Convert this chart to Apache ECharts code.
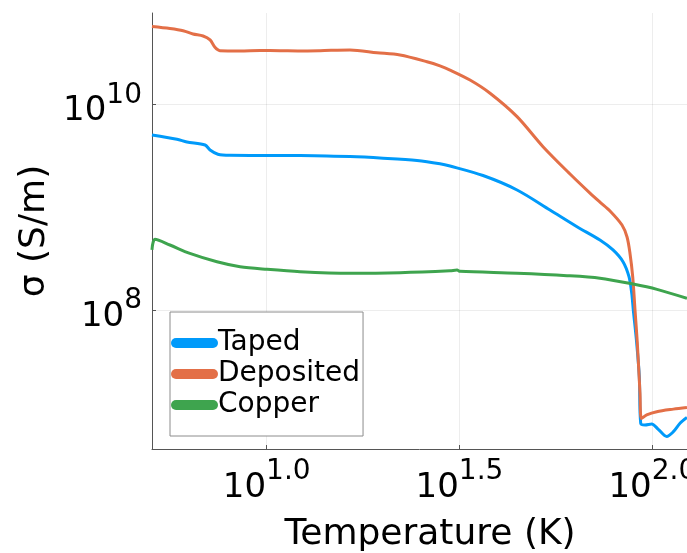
<!DOCTYPE html>
<html><head><meta charset="utf-8">
<script src="https://cdn.jsdelivr.net/npm/echarts@6/dist/echarts.min.js"></script>
<style>html,body{margin:0;padding:0;background:#fff}#c{width:687px;height:553px}</style>
</head><body><div id="c"></div>
<script>
// Temperature (K) and conductivity (S/m)
const tapedT = [5.04, 5.85, 6.21, 6.92, 7.13, 7.47, 8.03, 9.61, 12.2, 16.44, 20.03, 24.54, 28.14, 29.88, 36.39, 44.59, 54.28, 63.78, 73.15, 79.09, 83.95, 87.0, 88.43, 89.28, 91.11, 92.54, 93.32, 95.74, 99.64, 103.65, 108.97, 113.4, 118.0, 123.0];
const tapedSigma = [5.03e9, 4.57e9, 4.30e9, 4.02e9, 3.60e9, 3.27e9, 3.19e9, 3.18e9, 3.18e9, 3.10e9, 2.99e9, 2.84e9, 2.64e9, 2.51e9, 2.03e9, 1.47e9, 9.39e8, 6.46e8, 4.80e8, 3.84e8, 2.95e8, 2.11e8, 1.46e8, 1.00e8, 4.76e7, 2.25e7, 7.94e6, 7.65e6, 7.82e6, 6.94e6, 5.91e6, 6.58e6, 7.94e6, 9.04e6];

const depositedT = [5.04, 5.61, 6.07, 6.44, 6.84, 7.13, 7.34, 7.56, 8.53, 9.61, 10.83, 12.2, 13.75, 16.44, 19.32, 22.17, 26.04, 28.14, 29.88, 33.67, 37.95, 44.59, 52.07, 61.18, 68.92, 73.15, 77.68, 83.45, 86.0, 87.5, 88.97, 90.2, 91.44, 92.92, 93.76, 96.7, 102.7, 113.4, 123.0];
const depositedSigma = [5.70e10, 5.45e10, 5.19e10, 4.82e10, 4.61e10, 4.22e10, 3.58e10, 3.32e10, 3.30e10, 3.33e10, 3.32e10, 3.30e10, 3.32e10, 3.37e10, 3.17e10, 3.01e10, 2.59e10, 2.36e10, 2.15e10, 1.72e10, 1.28e10, 7.58e9, 3.87e9, 2.10e9, 1.37e9, 1.12e9, 9.19e8, 6.71e8, 5.13e8, 3.59e8, 2.10e8, 1.00e8, 4.79e7, 1.56e7, 8.84e6, 9.57e6, 1.03e7, 1.09e7, 1.13e7];

const copperT = [5.04, 5.13, 5.61, 6.32, 7.43, 8.53, 10.02, 12.2, 16.44, 22.17, 29.88, 31.16, 31.72, 44.59, 60.09, 73.15, 89.12, 102.85, 123.0];
const copperSigma = [3.84e8, 4.88e8, 4.29e8, 3.56e8, 2.95e8, 2.64e8, 2.49e8, 2.36e8, 2.28e8, 2.31e8, 2.41e8, 2.45e8, 2.38e8, 2.28e8, 2.16e8, 2.04e8, 1.79e8, 1.59e8, 1.30e8];

const seriesNames = ['Taped', 'Deposited', 'Copper'];
const xTickExponents = [1.0, 1.5, 2.0];
const yTickExponents = [8, 10];

const FONT = 'DejaVu Sans';
const toLogPairs = (ts, ss) => ts.map((t, i) => [Math.log10(t), Math.log10(ss[i])]);

const chart = echarts.init(document.getElementById('c'));
const rich = {
  b: { fontSize: 34, lineHeight: 60, fontFamily: FONT, color: '#000' },
  s: { fontSize: 28, lineHeight: 24, verticalAlign: 'top', fontFamily: FONT, color: '#000' }
};
const capsule = 'path://M5,0 L42,0 A5,5 0 0 1 42,10 L5,10 A5,5 0 0 1 5,0 Z';
const lineSeries = (name, data, color, z) => ({
  name, type: 'line', data, showSymbol: false, color, z,
  smooth: 0.3,
  lineStyle: { width: 3 }
});
chart.setOption({
  animation: false,
  backgroundColor: '#fff',
  grid: { left: 152, top: 13, right: 0, bottom: 104, containLabel: false, outerBoundsMode: 'none' },
  xAxis: {
    type: 'value', min: 0.7025, max: 2.09,
    name: 'Temperature (K)', nameLocation: 'middle', nameGap: 68,
    nameTextStyle: { fontSize: 36, fontFamily: FONT, color: '#000', padding: [0, 0, 0, 21] },
    axisLine: { show: true, lineStyle: { color: '#555', width: 1 } },
    axisTick: { show: true, inside: true, length: 4, customValues: xTickExponents, lineStyle: { color: '#555' } },
    axisLabel: { customValues: xTickExponents, margin: 9, formatter: v => '{b|10}{s|' + v.toFixed(1) + '}', rich: rich },
    splitLine: { show: true, lineStyle: { color: 'rgba(0,0,0,0.07)', width: 1 } }
  },
  yAxis: {
    type: 'value', min: 6.65, max: 10.887,
    name: 'σ (S/m)', nameLocation: 'middle', nameGap: 95, nameRotate: 90,
    nameTextStyle: { fontSize: 36, fontFamily: FONT, color: '#000' },
    axisLine: { show: true, lineStyle: { color: '#555', width: 1 } },
    axisTick: { show: true, inside: true, length: 4, customValues: yTickExponents, lineStyle: { color: '#555' } },
    axisLabel: { customValues: yTickExponents, margin: 10, padding: [14, 0, 0, 0], formatter: v => '{b|10}{s|' + Math.round(v) + '}', rich: rich },
    splitLine: { show: true, lineStyle: { color: 'rgba(0,0,0,0.07)', width: 1 } }
  },
  legend: {
    data: seriesNames, orient: 'vertical', left: 170, top: 312,
    padding: [17, 3, 17, 1], itemGap: 3, itemWidth: 47, itemHeight: 10,
    icon: capsule,
    backgroundColor: '#fff', borderColor: '#8c8c8c', borderWidth: 1, borderRadius: 0,
    textStyle: { fontSize: 28, lineHeight: 28, fontFamily: FONT, color: '#000', padding: [0, 0, 0, -5] }
  },
  series: [
    lineSeries(seriesNames[0], toLogPairs(tapedT, tapedSigma), '#009AFA', 2),
    lineSeries(seriesNames[1], toLogPairs(depositedT, depositedSigma), '#E36F47', 3),
    lineSeries(seriesNames[2], toLogPairs(copperT, copperSigma), '#3EA44E', 4)
  ]
});
</script></body></html>
